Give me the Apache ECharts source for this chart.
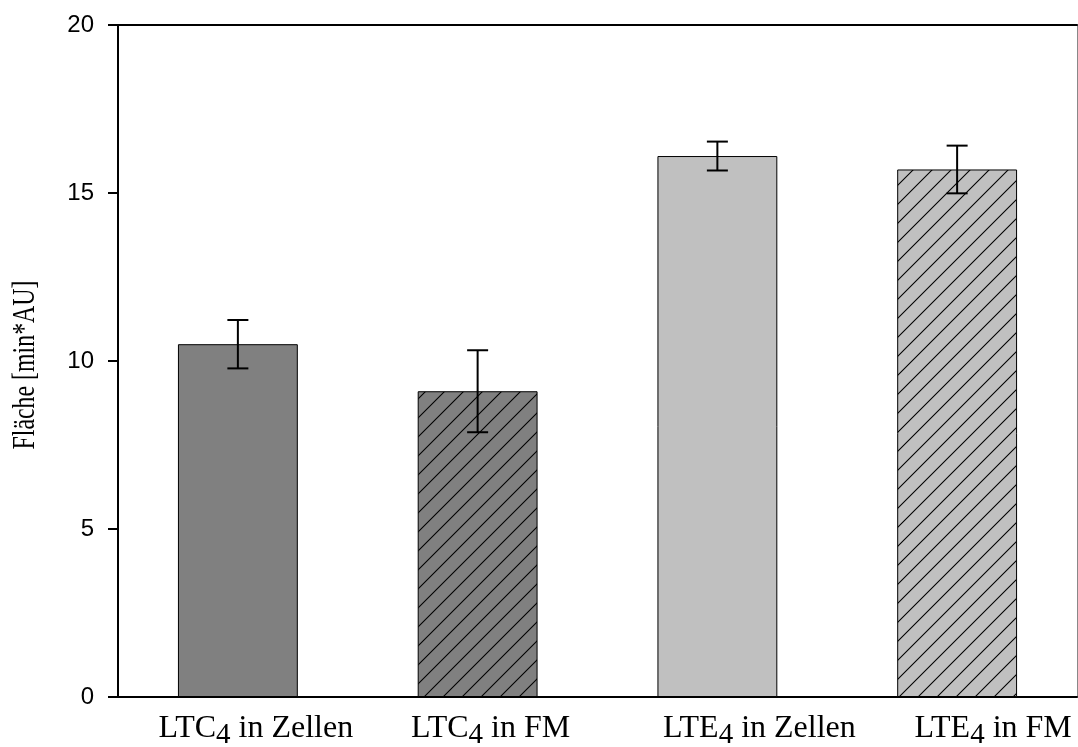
<!DOCTYPE html>
<html>
<head>
<meta charset="utf-8">
<title>Fläche</title>
<script src="https://cdn.jsdelivr.net/npm/echarts@6/dist/echarts.min.js"></script>
<style>
  html, body { margin: 0; padding: 0; background: #fff; }
  #chart { width: 1078px; height: 747px; }
</style>
</head>
<body>
<div id="chart"></div>
<script>
// Measured peak areas (mean) and their standard deviations
const categories = ['LTC4 in Zellen', 'LTC4 in FM', 'LTE4 in Zellen', 'LTE4 in FM'];
const values = [10.5, 9.1, 16.1, 15.7];
const errors = [0.72, 1.22, 0.43, 0.71];
const yTicks = [0, 5, 10, 15, 20];

// Appearance of each bar and its category label
const barFill = ['#808080', '#808080', '#c0c0c0', '#c0c0c0'];
const barHatched = [false, true, false, true];
const labelShift = [36, 26, 84, 72];

// Diagonal hatch tile (lines rising to the right)
function hatchPattern(fill) {
  const s = 19;
  const c = document.createElement('canvas');
  c.width = s; c.height = s;
  const g = c.getContext('2d');
  g.fillStyle = fill;
  g.fillRect(0, 0, s, s);
  g.strokeStyle = '#000';
  g.lineWidth = 1.1;
  g.beginPath();
  [-s, 0, s].forEach(function (k) {
    g.moveTo(k - 2, s + 2);
    g.lineTo(k + s + 2, -2);
  });
  g.stroke();
  return c;
}

const chart = echarts.init(document.getElementById('chart'), null, { renderer: 'canvas' });

const barData = values.map(function (v, i) {
  return {
    value: v,
    itemStyle: {
      color: barHatched[i] ? { image: hatchPattern(barFill[i]), repeat: 'repeat' } : barFill[i],
      borderColor: '#000',
      borderWidth: 1
    }
  };
});

const errData = values.map(function (v, i) { return [i, v - errors[i], v + errors[i]]; });

const axisCats = categories.map(function (c, i) {
  return { value: c, textStyle: { padding: [0, 0, 0, labelShift[i]] } };
});

function labelRich(name) {
  const m = name.match(/^(LT[CE])(\d)(.*)$/);
  return '{a|' + m[1] + '}{s|' + m[2] + '}{a|' + m[3] + '}';
}

chart.setOption({
  animation: false,
  backgroundColor: '#fff',
  grid: { left: 118, right: 1, top: 25, bottom: 50, outerBoundsMode: 'none', containLabel: false },
  xAxis: [{
    type: 'category',
    data: axisCats,
    axisLine: { lineStyle: { color: '#000', width: 2 } },
    axisTick: { show: false },
    axisLabel: {
      interval: 0,
      margin: 10,
      formatter: labelRich,
      rich: {
        a: { fontFamily: 'Liberation Serif', fontSize: 32, color: '#000' },
        s: { fontFamily: 'Liberation Serif', fontSize: 29, color: '#000', padding: [14, 0, 0, 0] }
      }
    }
  }, {
    type: 'category',
    data: categories,
    position: 'top',
    axisLine: { onZero: false, lineStyle: { color: '#000', width: 2 } },
    axisTick: { show: false },
    axisLabel: { show: false }
  }],
  yAxis: [{
    type: 'value',
    min: yTicks[0],
    max: yTicks[yTicks.length - 1],
    interval: 5,
    splitLine: { show: false },
    axisLine: { show: true, lineStyle: { color: '#000', width: 2 } },
    axisTick: { show: true, inside: false, length: 10, lineStyle: { color: '#000', width: 2 } },
    axisLabel: {
      margin: 24,
      fontFamily: 'Liberation Sans',
      fontSize: 24,
      color: '#000'
    }
  }, {
    type: 'value',
    position: 'right',
    min: yTicks[0],
    max: yTicks[yTicks.length - 1],
    interval: 5,
    splitLine: { show: false },
    axisLine: { show: true, onZero: false, lineStyle: { color: '#888', width: 1 } },
    axisTick: { show: false },
    axisLabel: { show: false }
  }],
  graphic: [{
    type: 'text',
    x: 26,
    y: 365,
    rotation: Math.PI / 2,
    scaleX: 0.77,
    style: {
      text: 'Fläche [min*AU]',
      font: '31px "Liberation Serif"',
      fill: '#000',
      align: 'center',
      verticalAlign: 'middle'
    }
  }],
  series: [{
    type: 'bar',
    data: barData,
    barWidth: '50%',
    xAxisIndex: 0,
    yAxisIndex: 0
  }, {
    type: 'custom',
    xAxisIndex: 0,
    yAxisIndex: 0,
    data: errData,
    z: 5,
    renderItem: function (params, api) {
      const lo = api.coord([api.value(0), api.value(1)]);
      const hi = api.coord([api.value(0), api.value(2)]);
      const half = 10.5;
      const st = { stroke: '#000', lineWidth: 2 };
      return {
        type: 'group',
        children: [
          { type: 'line', shape: { x1: lo[0], y1: lo[1], x2: hi[0], y2: hi[1] }, style: st },
          { type: 'line', shape: { x1: hi[0] - half, y1: hi[1], x2: hi[0] + half, y2: hi[1] }, style: st },
          { type: 'line', shape: { x1: lo[0] - half, y1: lo[1], x2: lo[0] + half, y2: lo[1] }, style: st }
        ]
      };
    }
  }]
});
</script>
</body>
</html>
